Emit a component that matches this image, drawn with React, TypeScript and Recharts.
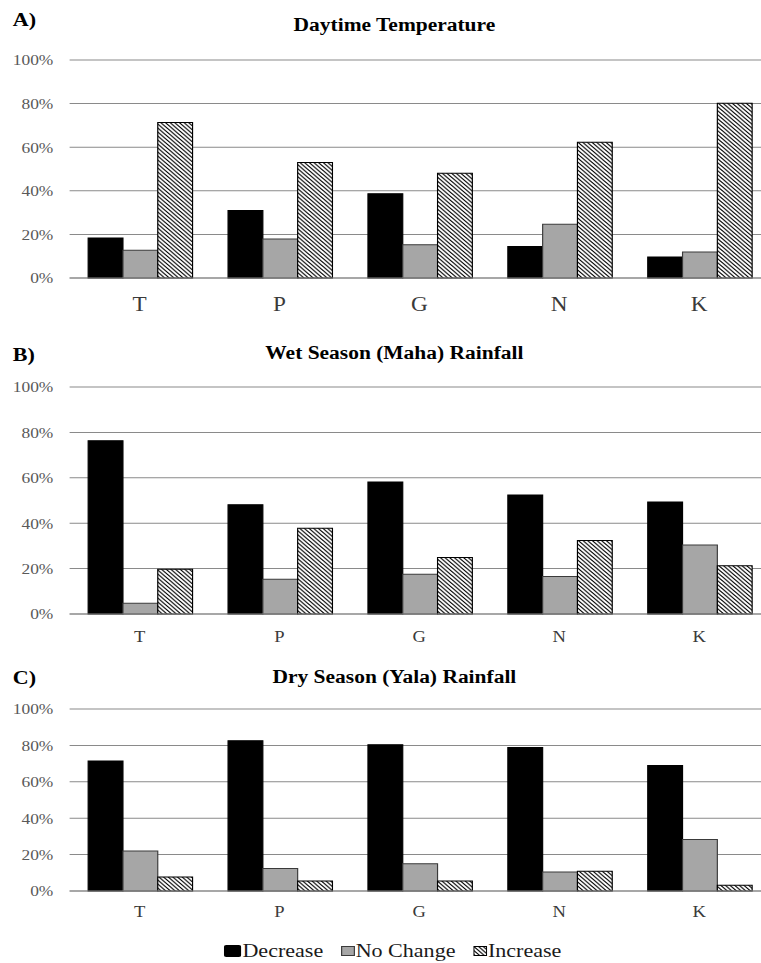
import React from 'react';
import { BarChart, Bar, XAxis, YAxis, CartesianGrid } from 'recharts';

const CATEGORIES = ['T', 'P', 'G', 'N', 'K'];
const SERIES_NAMES = ['Decrease', 'No Change', 'Increase'];
const Y_TICKS = [0, 20, 40, 60, 80, 100];
const PANEL_TAGS = ['A)', 'B)', 'C)'];
const PANEL_TITLES = ['Daytime Temperature', 'Wet Season (Maha) Rainfall', 'Dry Season (Yala) Rainfall'];

// share of respondents (%) per site
const TEMP_DECREASE = [18.3, 31, 38.6, 14.5, 9.6];
const TEMP_NO_CHANGE = [12.7, 17.9, 15.3, 24.7, 11.9];
const TEMP_INCREASE = [71.3, 53, 48.1, 62.3, 80.2];

const MAHA_DECREASE = [76.3, 48.1, 58.2, 52.4, 49.3];
const MAHA_NO_CHANGE = [4.7, 15.3, 17.5, 16.5, 30.4];
const MAHA_INCREASE = [19.7, 37.8, 24.9, 32.4, 21.3];

const YALA_DECREASE = [71.4, 82.6, 80.4, 78.9, 69];
const YALA_NO_CHANGE = [22, 12.3, 15, 10.5, 28.3];
const YALA_INCREASE = [7.7, 5.5, 5.5, 10.8, 3.1];

const toRows = (dec: number[], nc: number[], inc: number[]) =>
  CATEGORIES.map((cat, i) => ({ cat, decrease: dec[i], noChange: nc[i], increase: inc[i] }));

const PANEL_ROWS = [
  toRows(TEMP_DECREASE, TEMP_NO_CHANGE, TEMP_INCREASE),
  toRows(MAHA_DECREASE, MAHA_NO_CHANGE, MAHA_INCREASE),
  toRows(YALA_DECREASE, YALA_NO_CHANGE, YALA_INCREASE),
];

// layout of each panel (page y coords)
const LAYOUT = [
  { top: 0, marginTop: 60, plotH: 218, axisH: 45, catFont: 20, catMargin: 19, titleY: 25, tagY: 20 },
  { top: 330, marginTop: 57, plotH: 227, axisH: 35, catFont: 16, catMargin: 17, titleY: 353, tagY: 355 },
  { top: 660, marginTop: 49, plotH: 182, axisH: 30, catFont: 16, catMargin: 15, titleY: 677, tagY: 678 },
];

const STRETCH = 1.16;
const CHART_W = 672;
const SERIF = 'Liberation Serif';
const GRID = '#8a8a8a';
const GRAY = '#a6a6a6';

const HatchPattern = ({ id }: { id: string }) => (
  <pattern id={id} patternUnits="userSpaceOnUse" width={4} height={4}>
    <rect width={4} height={4} fill="#fff" />
    <path d="M-1,-1 L5,5 M-1,3 L1,5 M3,-1 L5,1" stroke="#000" strokeWidth={1} />
  </pattern>
);

const boldText: React.CSSProperties = {
  fontFamily: SERIF, fontWeight: 700, lineHeight: '20px', position: 'absolute', whiteSpace: 'nowrap',
};

function Panel({ idx }: { idx: number }) {
  const lay = LAYOUT[idx];
  const hatchId = `hatch-${idx}`;
  return (
    <>
      <div style={{ ...boldText, left: 11, top: lay.tagY - 10, fontSize: 19 }}>{PANEL_TAGS[idx]}</div>
      <div style={{ ...boldText, left: 140, width: 400, textAlign: 'center', top: lay.titleY - 10, fontSize: 18.5 }}>
        {PANEL_TITLES[idx]}
      </div>
      <div style={{ position: 'absolute', left: 0, top: lay.top }}>
        <BarChart
          width={CHART_W}
          height={lay.marginTop + lay.plotH + lay.axisH}
          data={PANEL_ROWS[idx]}
          margin={{ top: lay.marginTop, right: 9, bottom: 0, left: 0 }}
          barCategoryGap={16}
          barGap={0}
          style={{ fontFamily: SERIF }}
        >
          <defs>
            <HatchPattern id={hatchId} />
          </defs>
          <CartesianGrid vertical={false} stroke={GRID} />
          <XAxis
            dataKey="cat"
            height={lay.axisH}
            axisLine={{ stroke: GRID }}
            tickLine={false}
            tickSize={0}
            tickMargin={lay.catMargin}
            tick={{ fontSize: lay.catFont, fill: '#3a3a3a', fontFamily: SERIF }}
          />
          <YAxis
            width={60}
            domain={[0, 100]}
            ticks={Y_TICKS}
            interval={0}
            axisLine={false}
            tickLine={false}
            tickSize={0}
            tickMargin={14}
            tickFormatter={(v: number) => `${v}%`}
            tick={{ fontSize: 15, fill: '#595959', fontFamily: SERIF }}
          />
          <Bar dataKey="decrease" name={SERIES_NAMES[0]} fill="#000" stroke="#000" isAnimationActive={false} />
          <Bar dataKey="noChange" name={SERIES_NAMES[1]} fill={GRAY} stroke="#3a3a3a" isAnimationActive={false} />
          <Bar dataKey="increase" name={SERIES_NAMES[2]} fill={`url(#${hatchId})`} stroke="#000" isAnimationActive={false} />
        </BarChart>
      </div>
    </>
  );
}

const LegendMarker = ({ kind }: { kind: number }) => {
  if (kind === 0) {
    return <svg width={15} height={12} style={{ marginRight: 1 }}><rect x={0} y={0} width={15} height={12} rx={2} fill="#000" /></svg>;
  }
  if (kind === 1) {
    return <svg width={12} height={10} style={{ marginRight: 1 }}><rect x={0.5} y={0.5} width={11} height={9} fill={GRAY} stroke="#3a3a3a" /></svg>;
  }
  return (
    <svg width={12} height={10} style={{ marginRight: 1 }}>
      <defs><HatchPattern id="hatch-legend" /></defs>
      <rect x={0.5} y={0.5} width={11} height={9} fill="url(#hatch-legend)" stroke="#000" />
    </svg>
  );
};

export default function App() {
  return (
    <div style={{ position: 'absolute', left: 0, top: 0, width: 761, height: 963, overflow: 'hidden', background: '#fff' }}>
      <div
        style={{
          position: 'absolute', left: 0, top: 0, width: CHART_W, height: 963,
          transform: `scaleX(${STRETCH})`, transformOrigin: 'left top', color: '#000', fontFamily: SERIF,
        }}
      >
        {LAYOUT.map((_, i) => <Panel key={i} idx={i} />)}
        <div
          style={{
            position: 'absolute', left: 193, top: 941, display: 'flex', alignItems: 'center',
            fontFamily: SERIF, fontSize: 19, lineHeight: '20px', color: '#1a1a1a', whiteSpace: 'nowrap',
          }}
        >
          {SERIES_NAMES.map((name, i) => (
            <div key={name} style={{ display: 'flex', alignItems: 'center', marginRight: i < 2 ? 15 : 0 }}>
              <LegendMarker kind={i} />
              <span>{name}</span>
            </div>
          ))}
        </div>
      </div>
    </div>
  );
}
